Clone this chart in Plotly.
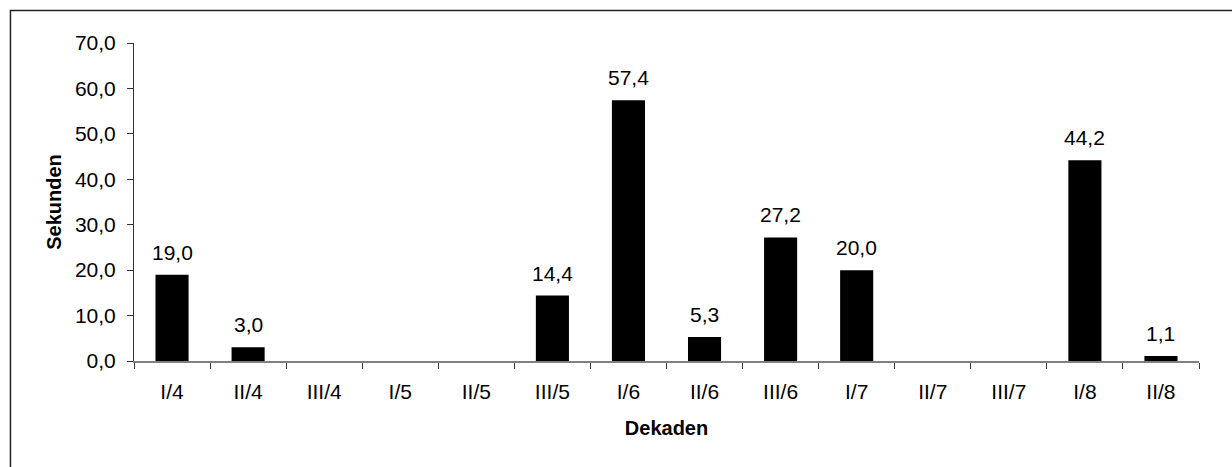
import plotly.graph_objects as go

# Dekaden and measured seconds per decade
dekaden = ["I/4", "II/4", "III/4", "I/5", "II/5", "III/5", "I/6",
           "II/6", "III/6", "I/7", "II/7", "III/7", "I/8", "II/8"]
sekunden = [19.0, 3.0, 0.0, 0.0, 0.0, 14.4, 57.4,
            5.3, 27.2, 20.0, 0.0, 0.0, 44.2, 1.1]
y_ticks = [0, 10, 20, 30, 40, 50, 60, 70]

FONT = "Liberation Sans, Arial, sans-serif"

fig = go.Figure()
fig.add_trace(go.Bar(
    x=dekaden,
    y=sekunden,
    marker=dict(color="black", line=dict(width=0)),
    hoverinfo="skip",
))

# Value labels above the non-empty bars
for cat, val in zip(dekaden, sekunden):
    if val > 0:
        fig.add_annotation(
            x=cat, y=val,
            text=f"{val:.1f}".replace(".", ","),
            showarrow=False,
            yanchor="bottom",
            yshift=9,
            font=dict(family=FONT, size=21, color="black"),
        )

fig.update_layout(
    width=1232,
    height=467,
    margin=dict(l=134, r=33, t=43, b=106),
    paper_bgcolor="white",
    plot_bgcolor="white",
    separators=", ",
    bargap=0.565,
    showlegend=False,
    font=dict(family=FONT, size=21, color="black"),
    xaxis=dict(
        type="category",
        showline=True,
        linecolor="#808080",
        linewidth=2,
        ticks="outside",
        tickson="boundaries",
        ticklen=6,
        tickcolor="#404040",
        tickwidth=1,
        showgrid=False,
        ticklabelstandoff=11,
        tickfont=dict(family=FONT, size=21),
        title=dict(text="<b>Dekaden</b>", font=dict(family=FONT, size=20),
                   standoff=19),
    ),
    yaxis=dict(
        range=[0, 70],
        tickvals=y_ticks,
        tickformat=".1f",
        showline=True,
        linecolor="#333333",
        linewidth=1,
        ticks="outside",
        ticklen=6,
        tickcolor="#333333",
        tickwidth=1,
        showgrid=False,
        zeroline=False,
        ticklabelstandoff=7,
        tickfont=dict(family=FONT, size=21),
        title=dict(text="<b>Sekunden</b>", font=dict(family=FONT, size=20),
                   standoff=7),
    ),
    shapes=[dict(
        type="rect", xref="paper", yref="paper",
        x0=-0.116, x1=1.2, y0=-0.5, y1=1.102,
        line=dict(color="#222222", width=1.5),
        fillcolor="rgba(0,0,0,0)",
        layer="below",
    )],
)

fig.write_html("out.html")
